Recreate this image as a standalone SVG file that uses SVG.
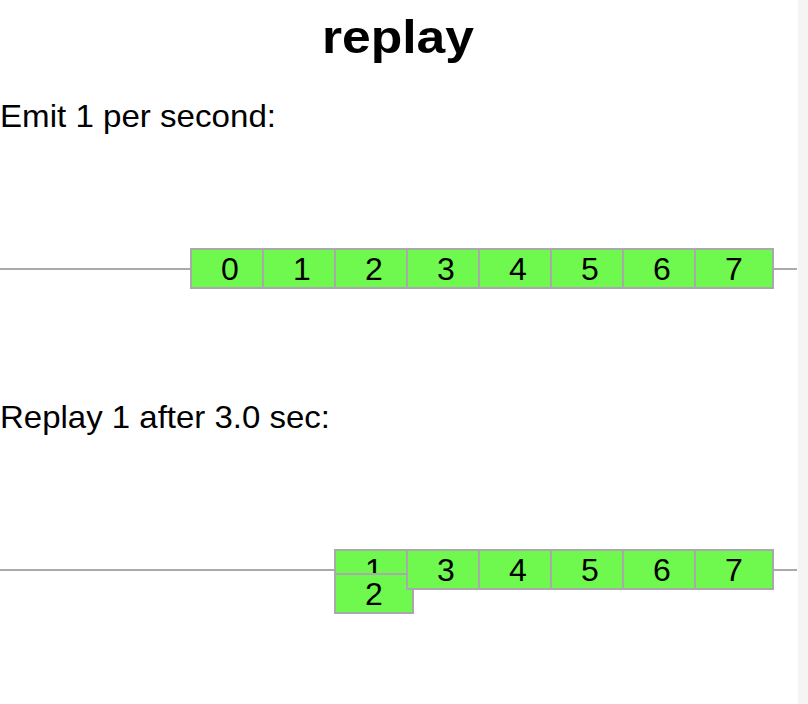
<svg xmlns="http://www.w3.org/2000/svg" width="808" height="704" viewBox="0 0 808 704">
  <style>
    .title { font-family: "Liberation Sans", Arial, sans-serif; font-weight: bold; font-size: 46px; fill: #000; }
    .label { font-family: "Liberation Sans", Arial, sans-serif; font-size: 32px; fill: #000; }
    .box rect { fill: #6ff94e; stroke: #a9a9a9; stroke-width: 2; }
    .box text { font-family: "Liberation Sans", Arial, sans-serif; font-size: 32px; fill: #000; text-anchor: middle; }
    .timeline { stroke: #aaaaaa; stroke-width: 2; fill: none; }
  </style>
  <defs>
    <clipPath id="clip-replay-1">
      <rect x="335" y="550" width="78" height="24"/>
    </clipPath>
  </defs>
  <rect x="0" y="0" width="808" height="704" fill="#ffffff"/>
  <rect x="798" y="0" width="10" height="704" fill="#f4f4f4"/>

  <text class="title" x="398" y="53" text-anchor="middle" textLength="152" lengthAdjust="spacingAndGlyphs">replay</text>
  <text class="label" x="0" y="127" textLength="276" lengthAdjust="spacingAndGlyphs">Emit 1 per second:</text>
  <text class="label" x="0" y="428" textLength="330" lengthAdjust="spacingAndGlyphs">Replay 1 after 3.0 sec:</text>

  <g id="connectors">
    <line class="timeline" x1="0" y1="269" x2="797" y2="269"/>
    <line class="timeline" x1="0" y1="570" x2="797" y2="570"/>
  </g>

  <g id="emit-0" class="box"><rect x="191" y="249" width="78" height="39"/><text x="230" y="280">0</text></g>
  <g id="emit-1" class="box"><rect x="263" y="249" width="78" height="39"/><text x="302" y="280">1</text></g>
  <g id="emit-2" class="box"><rect x="335" y="249" width="78" height="39"/><text x="374" y="280">2</text></g>
  <g id="emit-3" class="box"><rect x="407" y="249" width="78" height="39"/><text x="446" y="280">3</text></g>
  <g id="emit-4" class="box"><rect x="479" y="249" width="78" height="39"/><text x="518" y="280">4</text></g>
  <g id="emit-5" class="box"><rect x="551" y="249" width="78" height="39"/><text x="590" y="280">5</text></g>
  <g id="emit-6" class="box"><rect x="623" y="249" width="78" height="39"/><text x="662" y="280">6</text></g>
  <g id="emit-7" class="box"><rect x="695" y="249" width="78" height="39"/><text x="734" y="280">7</text></g>

  <g id="replay-1" class="box"><rect x="335" y="550" width="78" height="39"/><text x="374" y="581" clip-path="url(#clip-replay-1)">1</text></g>
  <g id="replay-2" class="box"><rect x="335" y="574" width="78" height="39"/><text x="374" y="605">2</text></g>
  <g id="replay-3" class="box"><rect x="407" y="550" width="78" height="39"/><text x="446" y="581">3</text></g>
  <g id="replay-4" class="box"><rect x="479" y="550" width="78" height="39"/><text x="518" y="581">4</text></g>
  <g id="replay-5" class="box"><rect x="551" y="550" width="78" height="39"/><text x="590" y="581">5</text></g>
  <g id="replay-6" class="box"><rect x="623" y="550" width="78" height="39"/><text x="662" y="581">6</text></g>
  <g id="replay-7" class="box"><rect x="695" y="550" width="78" height="39"/><text x="734" y="581">7</text></g>
</svg>
